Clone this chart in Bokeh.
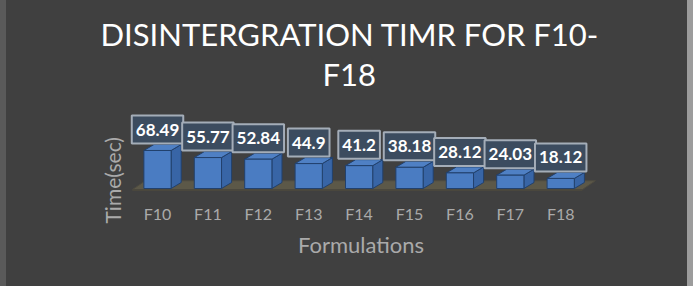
from bokeh.plotting import figure
from bokeh.models import Range1d, FixedTicker, Div, Title
from bokeh.layouts import row
from bokeh.embed import file_html
from bokeh.resources import INLINE
from bokeh.core.properties import value

# ---- data ----
categories = ["F10", "F11", "F12", "F13", "F14", "F15", "F16", "F17", "F18"]
times = [68.49, 55.77, 52.84, 44.9, 41.2, 38.18, 28.12, 24.03, 18.12]
labels = [f"{v:g}" for v in times]
title_line1 = "DISINTERGRATION TIMR FOR F10-"
title_line2 = "F18"
x_title = "Formulations"
y_title = "Time(sec)"

n = len(categories)
idx = list(range(n))

# ---- geometry (in data units) ----
hw = 0.27      # half bar width
dx = 0.20      # depth offset x
dy = 10.8      # depth offset y
fdx = 0.26
fdy = 16.0
f_front = -2.0
f_x0 = -0.5
f_x1 = n - 1 + 0.43

BG = "#404040"
FONT = "Lato"
GREY = "#aaaaaa"

p = figure(width=681, height=286, output_backend="svg", toolbar_location=None,
           x_range=Range1d(-0.655, 8.730), y_range=Range1d(-14.4, 173.0),
           y_axis_location=None, title=None,
           min_border_left=118, min_border_right=90, min_border_top=92,
           min_border_bottom=90)
p.background_fill_color = None
p.border_fill_color = None
p.styles = {"background-color": BG}
p.outline_line_color = None
p.xgrid.visible = False
p.ygrid.visible = False

# two-line title
p.add_layout(Title(text=title_line2, align="left", offset=198, text_font=FONT,
                   text_font_size="31px", text_font_style="normal",
                   text_color="white", standoff=0), "above")
p.add_layout(Title(text=title_line1, align="left", offset=-24, text_font=FONT,
                   text_font_size="31px", text_font_style="normal",
                   text_color="white", standoff=0), "above")

# y axis title
p.add_layout(Title(text=y_title, align="left", offset=-27, text_font=FONT,
                   text_font_size="21px", text_font_style="normal",
                   text_color=GREY, standoff=0), "left")

# floor
p.patch([f_x0, f_x1, f_x1 + fdx, f_x0 + fdx],
        [f_front, f_front, f_front + fdy, f_front + fdy],
        fill_color="#5c5848", line_color="#4e4b40", line_width=1)
p.patch([f_x0, f_x1, f_x1, f_x0],
        [f_front, f_front, f_front - 2.5, f_front - 2.5],
        fill_color="#4a473d", line_color=None)

# bars (3D look)
side_xs, side_ys, top_xs, top_ys = [], [], [], []
for i, v in zip(idx, times):
    side_xs.append([i + hw, i + hw + dx, i + hw + dx, i + hw])
    side_ys.append([0, dy, v + dy, v])
    top_xs.append([i - hw, i + hw, i + hw + dx, i - hw + dx])
    top_ys.append([v, v, v + dy, v + dy])
p.patches(side_xs, side_ys, fill_color="#3865a6", line_color="#22416d", line_width=1)
p.patches(top_xs, top_ys, fill_color="#4f80c4", line_color="#22416d", line_width=1)
p.vbar(x=idx, width=2 * hw, top=times, bottom=0,
       fill_color="#4a7cc2", line_color="#22416d", line_width=1)

# data labels
p.text(x=idx, y=[v + dy for v in times], text=labels,
       text_align="center", text_baseline="middle", y_offset=-15,
       text_font=value(FONT), text_font_size="17px", text_font_style="bold",
       text_color="white", background_fill_color="#3c4c5f",
       border_line_color="#a4adb8", border_line_width=2, padding=(4, 8))

# x axis
xa = p.xaxis[0]
xa.ticker = FixedTicker(ticks=idx)
xa.major_label_overrides = {i: c for i, c in zip(idx, categories)}
xa.axis_line_color = None
xa.major_tick_line_color = None
xa.minor_tick_line_color = None
xa.major_tick_out = 0
xa.major_tick_in = 0
xa.major_label_text_font = FONT
xa.major_label_text_font_size = "16px"
xa.major_label_text_color = GREY
xa.major_label_standoff = 7
xa.axis_label = x_title
xa.axis_label_text_font = FONT
xa.axis_label_text_font_size = "22px"
xa.axis_label_text_font_style = "normal"
xa.axis_label_text_color = GREY
xa.axis_label_standoff = 5

left = Div(text="", width=6, height=286, margin=0,
           styles={"background-color": "#5a5a5a"})
right = Div(text="", width=6, height=286, margin=0,
            styles={"background-color": "#9c9c9c"})
layout = row(left, p, right, spacing=0)

open("out.html", "w").write(file_html(layout, INLINE))
